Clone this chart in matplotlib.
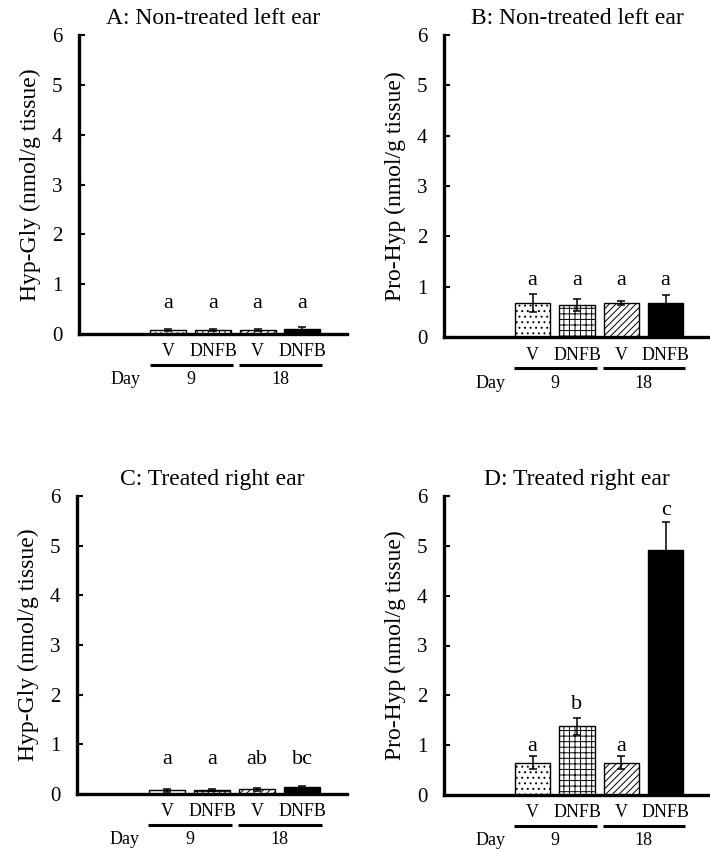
import matplotlib
matplotlib.use("Agg")
import matplotlib.pyplot as plt

plt.rcParams['font.family'] = ['Liberation Serif', 'DejaVu Serif']
plt.rcParams['hatch.linewidth'] = 0.7

# bar groups: day 9 V, day 9 DNFB, day 18 V, day 18 DNFB
groups = ['V', 'DNFB', 'V', 'DNFB']
days = ['9', '18']
hatches = ['...', '+++', '/////', '']
colors = ['white', 'white', 'white', 'black']

titles = ['A: Non-treated left ear', 'B: Non-treated left ear',
          'C: Treated right ear', 'D: Treated right ear']
ylabels = ['Hyp-Gly (nmol/g tissue)', 'Pro-Hyp (nmol/g tissue)',
           'Hyp-Gly (nmol/g tissue)', 'Pro-Hyp (nmol/g tissue)']

a_vals = [0.08, 0.09, 0.09, 0.10]
a_err = [0.02, 0.02, 0.02, 0.04]
b_vals = [0.68, 0.63, 0.68, 0.67]
b_err = [0.18, 0.12, 0.04, 0.16]
c_vals = [0.08, 0.08, 0.10, 0.14]
c_err = [0.03, 0.02, 0.03, 0.02]
d_vals = [0.65, 1.38, 0.65, 4.92]
d_err = [0.13, 0.17, 0.13, 0.56]

a_letters = ['a', 'a', 'a', 'a']
b_letters = ['a', 'a', 'a', 'a']
c_letters = ['a', 'a', 'ab', 'bc']
d_letters = ['a', 'b', 'a', 'c']
a_let_y = [0.62] * 4
b_let_y = [1.13] * 4
c_let_y = [0.70] * 4
d_let_y = [0.98, 1.82, 0.98, 5.70]

panels = [
    (a_vals, a_err, a_letters, a_let_y),
    (b_vals, b_err, b_letters, b_let_y),
    (c_vals, c_err, c_letters, c_let_y),
    (d_vals, d_err, d_letters, d_let_y),
]

# axes rectangles in pixels: left, zero line, right, top (6)
W, H = 710, 852
rects = [(79, 334, 347, 35), (444, 337, 710, 35),
         (77, 794, 347, 496), (444, 795, 710, 496)]

fig = plt.figure(figsize=(7.1, 8.52), dpi=100)
x = [1, 2, 3, 4]

for i, (vals, err, letters, let_y) in enumerate(panels):
    l, z, r, t = rects[i]
    ax = fig.add_axes([l / W, (H - z) / H, (r - l) / W, (z - t) / H])
    ax.bar(x, vals, width=0.8, color=colors, edgecolor='black',
           hatch=hatches, linewidth=1.0, zorder=2)
    ax.errorbar(x, vals, yerr=err, fmt='none', ecolor='black',
                elinewidth=1.1, capsize=3, capthick=1.1, zorder=3)
    for xi, lt, ly in zip(x, letters, let_y):
        ax.text(xi, ly, lt, ha='center', va='center', fontsize=16)

    ax.set_xlim(-1, 5)
    ax.set_ylim(0, 6)
    ax.set_yticks(range(7))
    ax.set_xticks([])
    ax.tick_params(axis='y', direction='in', length=4, width=1.5,
                   labelsize=15, pad=12)
    for s in ['top', 'right']:
        ax.spines[s].set_visible(False)
    for s in ['left', 'bottom']:
        ax.spines[s].set_linewidth(2.4)
    ax.set_ylabel(ylabels[i], fontsize=17, labelpad=8)
    ax.set_title(titles[i], fontsize=17, pad=8)

    # group labels below the axis
    for xi, g in zip(x, groups):
        ax.text(xi, -0.36, g, ha='center', va='center', fontsize=13,
                clip_on=False)
    for k, d in enumerate(days):
        x0, x1 = x[2 * k] - 0.42, x[2 * k + 1] + 0.44
        ax.plot([x0, x1], [-0.62, -0.62], color='black', lw=2.2,
                clip_on=False, solid_capstyle='butt')
        ax.text((x[2 * k] + x[2 * k + 1]) / 2, -0.92, d, ha='center',
                va='center', fontsize=13, clip_on=False)
    ax.text(0.05, -0.92, 'Day', ha='center', va='center', fontsize=13,
            clip_on=False)

fig.savefig('out.png', dpi=100, facecolor='white')
